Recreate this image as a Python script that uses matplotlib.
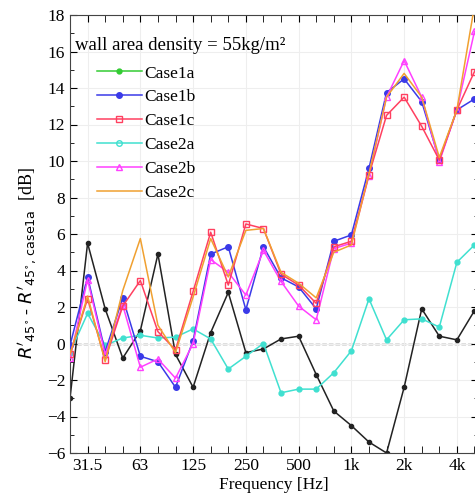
import numpy as np
import matplotlib
matplotlib.use('Agg')
import matplotlib.pyplot as plt
import matplotlib.lines as mlines
from matplotlib.ticker import FixedLocator, MultipleLocator

# --- 1/3 octave band centre frequencies
freqs = ['25', '31.5', '40', '50', '63', '80', '100', '125', '160', '200', '250', '315',
         '400', '500', '630', '800', '1k', '1.25k', '1.6k', '2k', '2.5k', '3.15k', '4k', '5k']
tick_labels = ['31.5', '63', '125', '250', '500', '1k', '2k', '4k']

# --- black reference curve (no legend entry)
black = [-3.0, 5.5, 1.9, -0.8, 0.7, 4.9, -0.6, -2.4, 0.6, 2.8, -0.5, -0.3,
         0.25, 0.4, -1.7, -3.7, -4.5, -5.4, -6.0, -2.4, 1.9, 0.4, 0.2, 1.8]
case1a = []   # reference case, nothing visible
case1b = [-0.1, 3.65, -0.45, 2.5, -0.7, -1.0, -2.4, 0.15, 4.9, 5.3, 1.85, 5.3,
          3.6, 3.1, 1.9, 5.6, 5.95, 9.6, 13.75, 14.5, 13.25, 10.05, 12.8, 13.4]
case1c = [-0.6, 2.45, -0.9, 2.05, 3.45, 0.65, -0.35, 2.85, 6.1, 3.2, 6.55, 6.3,
          3.8, 3.2, 2.2, 5.3, 5.6, 9.25, 12.5, 13.5, 11.9, 10.05, 12.8, 14.9]
case2a = [-0.5, 1.65, -0.1, 0.3, 0.45, 0.3, 0.35, 0.8, 0.25, -1.4, -0.7, 0.0,
          -2.7, -2.5, -2.5, -1.6, -0.4, 2.45, 0.2, 1.3, 1.35, 0.9, 4.45, 5.4]
case2b = [-0.8, 3.5, -0.6, 2.1, -1.3, -0.85, -1.9, 0.0, 4.6, 3.9, 2.65, 5.1,
          3.4, 2.05, 1.3, 5.2, 5.5, 9.2, 13.5, 15.5, 13.5, 9.95, 12.8, 17.1]
case2c = [-0.6, 2.6, -1.0, 2.9, 5.75, 1.0, -0.5, 2.55, 5.75, 3.65, 6.2, 6.3,
          3.9, 3.3, 2.5, 5.0, 5.4, 9.3, 13.5, 14.8, 13.5, 10.2, 12.8, 18.5]

plt.rcParams['font.family'] = ['Liberation Serif', 'DejaVu Serif']
plt.rcParams['mathtext.fontset'] = 'dejavusans'

fig = plt.figure(figsize=(4.75, 4.93), dpi=100)
# axes runs a bit past the right edge of the picture, like the reference
ax = fig.add_axes([70 / 475, 40 / 493, 408 / 475, 438 / 493])

x = np.arange(len(freqs))
lw = 1.1

ax.axhline(0, color='black', linestyle='--', linewidth=0.9, zorder=1)
ax.plot(x, black, color='#222222', marker='o', markersize=3, linewidth=lw, zorder=2)
ax.plot(x, case2a, color='#40e0d0', marker='o', markersize=3.5, linewidth=lw, zorder=3)
ax.plot(case1a, case1a, color='#33cc33', marker='o', markersize=3.5, linewidth=lw)
ax.plot(x, case1b, color='#3a3ae8', marker='o', markersize=4, linewidth=lw, zorder=4)
ax.plot(x, case2b, color='#ff40ff', marker='^', markersize=5, markerfacecolor='none',
        linewidth=lw, zorder=5)
ax.plot(x, case1c, color='#ff4060', marker='s', markersize=5, markerfacecolor='none',
        linewidth=lw, zorder=6)
ax.plot(x, case2c, color='#f0a030', linewidth=lw, zorder=7)

# --- legend handles in the original order
handles = [
    mlines.Line2D([], [], color='#33cc33', marker='o', markersize=3.5, linewidth=lw),
    mlines.Line2D([], [], color='#3a3ae8', marker='o', markersize=4, linewidth=lw),
    mlines.Line2D([], [], color='#ff4060', marker='s', markersize=5, markerfacecolor='none', linewidth=lw),
    mlines.Line2D([], [], color='#40e0d0', marker='o', markersize=4, markerfacecolor='none', linewidth=lw),
    mlines.Line2D([], [], color='#ff40ff', marker='^', markersize=5, markerfacecolor='none', linewidth=lw),
    mlines.Line2D([], [], color='#f0a030', linewidth=lw),
]
labels = ['Case1a', 'Case1b', 'Case1c', 'Case2a', 'Case2b', 'Case2c']
ax.legend(handles, labels, loc='upper left', bbox_to_anchor=(0.066, 0.885),
          frameon=False, fontsize=12.5, handlelength=2.6, handletextpad=0.15,
          labelspacing=0.45, borderpad=0, borderaxespad=0)

ax.text(0.012, 0.931, 'wall area density = 55kg/m²', transform=ax.transAxes,
        fontsize=13.5, va='center', ha='left')

ax.set_xlim(0, 23.2)
ax.set_ylim(-6, 18)
tick_pos = [freqs.index(t) for t in tick_labels]
ax.xaxis.set_major_locator(FixedLocator(tick_pos))
ax.set_xticklabels(tick_labels)
ax.xaxis.set_minor_locator(FixedLocator(list(x)))
ax.yaxis.set_major_locator(MultipleLocator(2))
ax.yaxis.set_minor_locator(MultipleLocator(1))
ax.tick_params(which='both', direction='in', top=True, right=True, labelsize=12.5)
ax.tick_params(which='major', length=5)
ax.tick_params(which='minor', length=3)
ax.tick_params(axis='x', which='minor', length=5)
ax.grid(True, which='major', color='#eeeeee', linewidth=0.8, zorder=0)
for s in ax.spines.values():
    s.set_color('#444444')

ax.set_xlabel('Frequency [Hz]', fontsize=12.5, labelpad=2)
fig.text(28 / 475, 1 - 263 / 493,
         r"$R'_{45^{\circ}}$ - $R'_{45^{\circ},\,\mathrm{case1a}}$  [dB]",
         rotation=90, ha='center', va='center', fontsize=13)

fig.savefig('out.png', dpi=100)
